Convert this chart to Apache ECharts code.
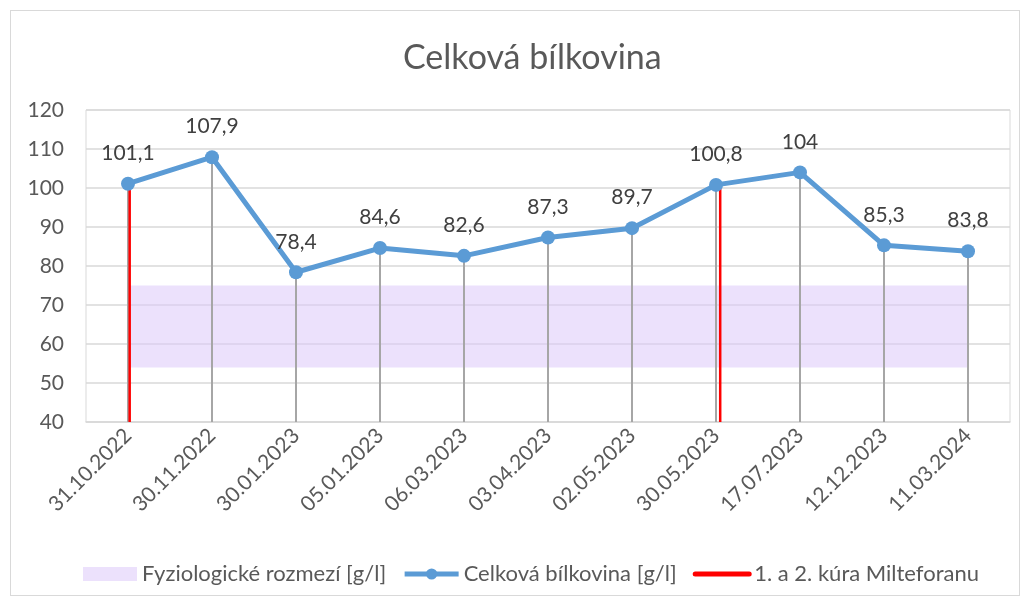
<!DOCTYPE html>
<html>
<head>
<meta charset="utf-8">
<script src="https://cdn.jsdelivr.net/npm/echarts@6/dist/echarts.min.js"></script>
<style>
  html, body { margin: 0; padding: 0; background: #fff; }
  #main { width: 1029px; height: 604px; }
  .frame { position: absolute; left: 10px; top: 10px; width: 1008px; height: 584px; border: 1px solid #d9d9d9; pointer-events: none; }
</style>
</head>
<body>
<div id="main"></div>
<div class="frame"></div>
<script>
// data
const dates = ['31.10.2022', '30.11.2022', '30.01.2023', '05.01.2023', '06.03.2023',
    '03.04.2023', '02.05.2023', '30.05.2023', '17.07.2023', '12.12.2023', '11.03.2024'];
const protein = [101.1, 107.9, 78.4, 84.6, 82.6, 87.3, 89.7, 100.8, 104, 85.3, 83.8];
const rangeLow = dates.map(() => 54);
const rangeSpan = dates.map(() => 21);   // 54..75
const cureAt = [0.02, 7.05];              // position along the category index
const cureTop = [101.1, 100.8];
const yTicks = [40, 120, 10];

const font = 'Lato, "Open Sans", sans-serif';

let option = {
    animation: false,
    title: {
        text: 'Celková bílkovina',
        left: 398,
        top: 36,
        textStyle: {fontFamily: font, fontSize: 34, fontWeight: 'normal', color: '#595959'}
    },
    legend: {
        bottom: 14,
        left: 78,
        itemWidth: 54,
        itemHeight: 14,
        itemGap: 16,
        textStyle: {fontFamily: font, fontSize: 22, color: '#595959'},
        data: [
            {name: 'Fyziologické rozmezí [g/l]', icon: 'rect'},
            {name: 'Celková bílkovina [g/l]', lineStyle: {width: 5}},
            {name: '1. a 2. kúra Milteforanu', itemStyle: {opacity: 0}, lineStyle: {width: 5, cap: 'round'}}
        ]
    },
    grid: {
        left: 86, right: 19, top: 110, bottom: 182,
        show: true, borderColor: '#d9d9d9', borderWidth: 1
    },
    xAxis: [
        {
            type: 'category',
            data: dates,
            boundaryGap: true,
            axisLine: {lineStyle: {color: '#d9d9d9', width: 1.5}},
            axisTick: {show: false},
            axisLabel: {rotate: 45, margin: 10, fontFamily: font, fontSize: 21, color: '#595959'}
        },
        {
            type: 'value',
            min: -0.5, max: dates.length - 0.5,
            show: false
        }
    ],
    yAxis: {
        type: 'value',
        min: yTicks[0], max: yTicks[1], interval: yTicks[2],
        axisLine: {show: false},
        axisTick: {show: false},
        axisLabel: {margin: 22, fontFamily: font, fontSize: 21, color: '#595959'},
        splitLine: {lineStyle: {color: '#d9d9d9', width: 1.5}}
    },
    series: [
        {
            name: 'rangeBase',
            type: 'line',
            stack: 'range',
            data: rangeLow,
            symbol: 'none',
            lineStyle: {opacity: 0},
            silent: true,
            z: 0
        },
        {
            name: 'Fyziologické rozmezí [g/l]',
            type: 'line',
            stack: 'range',
            data: rangeSpan,
            symbol: 'none',
            lineStyle: {opacity: 0},
            itemStyle: {color: '#ece1fc'},
            areaStyle: {color: 'rgba(220, 200, 250, 0.55)', opacity: 1},
            silent: true,
            z: 0
        },
        {
            name: 'drops',
            type: 'bar',
            data: protein,
            barWidth: 2,
            itemStyle: {color: '#a6a6a6'},
            silent: true,
            z: 1
        },
        ...cureAt.map((x, i) => ({
            name: '1. a 2. kúra Milteforanu',
            type: 'line',
            xAxisIndex: 1,
            data: [[x, yTicks[0]], [x, cureTop[i]]],
            symbol: 'none',
            lineStyle: {color: '#ff0000', width: 2.5},
            itemStyle: {color: '#ff0000'},
            z: 2
        })),
        {
            name: 'Celková bílkovina [g/l]',
            type: 'line',
            data: protein,
            symbol: 'circle',
            symbolSize: 14,
            lineStyle: {color: '#5b9bd5', width: 5},
            itemStyle: {color: '#5b9bd5'},
            label: {
                show: true,
                position: 'top',
                distance: 13,
                fontFamily: font,
                fontSize: 21,
                color: '#404040',
                formatter: p => String(p.value).replace('.', ',')
            },
            z: 3
        }
    ]
};

let myChart = echarts.init(document.getElementById('main'));
myChart.setOption(option);
</script>
</body>
</html>
